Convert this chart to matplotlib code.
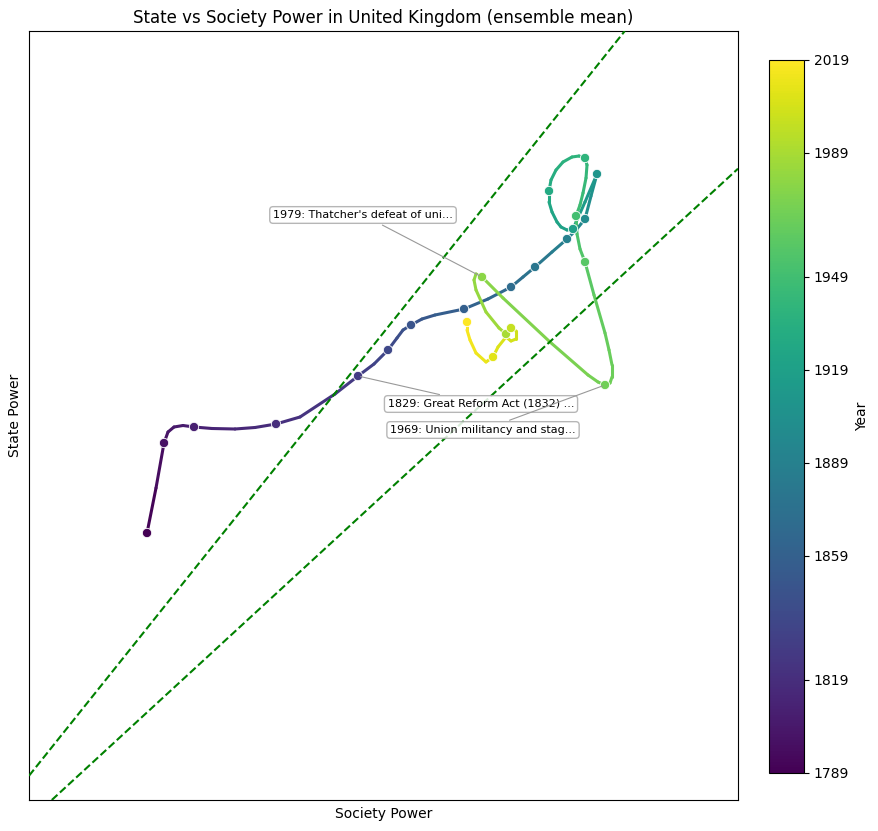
import numpy as np
import matplotlib.pyplot as plt
from matplotlib.collections import LineCollection
from matplotlib.colors import Normalize
from matplotlib.cm import ScalarMappable

# decade markers (arbitrary power units)
dot_years = [1789, 1799, 1809, 1819, 1829, 1839, 1849, 1859, 1869, 1879, 1889, 1899,
             1909, 1919, 1929, 1939, 1949, 1959, 1969, 1979, 1989, 1999, 2009, 2019]
dot_society = [2.55, 2.72, 3.02, 3.84, 4.66, 4.96, 5.19, 5.72, 6.19, 6.43, 6.75, 6.93,
               7.05, 6.81, 6.57, 6.93, 6.84, 6.93, 7.13, 5.90, 6.14, 6.19, 6.01, 5.75]
dot_state = [4.14, 5.04, 5.20, 5.23, 5.71, 5.97, 6.22, 6.38, 6.60, 6.80, 7.08, 7.28,
             7.73, 7.18, 7.56, 7.89, 7.31, 6.85, 5.62, 6.70, 6.13, 6.19, 5.90, 6.25]

# trajectory between the markers
path_years = [1789, 1794, 1799, 1802, 1804, 1806, 1809, 1811, 1814, 1816, 1819, 1822,
              1826, 1829, 1834, 1839, 1842, 1846, 1849, 1851, 1854, 1859, 1864, 1869,
              1874, 1879, 1884, 1889, 1894, 1899, 1904, 1909, 1914, 1919, 1920, 1921,
              1922, 1924, 1926, 1929, 1931, 1933, 1935, 1937, 1938, 1939, 1940, 1942,
              1944, 1946, 1949, 1952, 1955, 1959, 1962, 1965, 1966, 1967, 1968, 1968.5,
              1969, 1970, 1971, 1974, 1977, 1979, 1980, 1981, 1982, 1984, 1987, 1989,
              1994, 1999, 2001, 2003, 2004, 2005, 2007, 2009, 2011, 2013, 2015, 2017,
              2019]
path_society = [2.55, 2.64, 2.72, 2.76, 2.82, 2.91, 3.02, 3.20, 3.43, 3.63, 3.84, 4.08,
                4.43, 4.66, 4.82, 4.96, 5.05, 5.11, 5.19, 5.30, 5.43, 5.72, 5.96, 6.19,
                6.31, 6.43, 6.60, 6.75, 6.84, 6.93, 6.99, 7.05, 6.93, 6.81, 6.75, 6.69,
                6.65, 6.60, 6.57, 6.57, 6.59, 6.64, 6.71, 6.80, 6.87, 6.93, 6.95, 6.94,
                6.91, 6.88, 6.84, 6.85, 6.88, 6.93, 7.02, 7.13, 7.17, 7.20, 7.20, 7.18,
                7.13, 7.06, 6.96, 6.58, 6.11, 5.90, 5.84, 5.82, 5.84, 5.94, 6.07, 6.14,
                6.17, 6.19, 6.24, 6.24, 6.19, 6.14, 6.06, 6.01, 5.94, 5.84, 5.78, 5.75,
                5.75]
path_state = [4.14, 4.59, 5.04, 5.15, 5.20, 5.215, 5.20, 5.185, 5.18, 5.195, 5.23, 5.30,
              5.53, 5.71, 5.83, 5.97, 6.09, 6.17, 6.22, 6.28, 6.32, 6.38, 6.48, 6.60,
              6.70, 6.80, 6.95, 7.08, 7.17, 7.28, 7.51, 7.73, 7.45, 7.18, 7.17, 7.20,
              7.25, 7.35, 7.45, 7.56, 7.67, 7.77, 7.85, 7.90, 7.91, 7.89, 7.82, 7.69,
              7.54, 7.42, 7.31, 7.13, 6.98, 6.85, 6.52, 6.14, 5.97, 5.82, 5.70, 5.64,
              5.62, 5.65, 5.72, 6.05, 6.49, 6.70, 6.73, 6.67, 6.57, 6.35, 6.19, 6.13,
              6.17, 6.19, 6.16, 6.08, 6.06, 6.10, 6.00, 5.90, 5.85, 5.94, 6.07, 6.17,
              6.25]

events = {1829: "1829: Great Reform Act (1832) ...",
          1969: "1969: Union militancy and stag...",
          1979: "1979: Thatcher's defeat of uni..."}
label_pos = {1829: (5.89, 5.43), 1969: (5.91, 5.17), 1979: (4.71, 7.32)}

cbar_ticks = [1789, 1819, 1859, 1889, 1919, 1949, 1989, 2019]

fig = plt.figure(figsize=(8.79, 8.31), dpi=100)
ax = fig.add_axes([0.033, 0.0373, 0.8066, 0.9254])
cax = fig.add_axes([0.8749, 0.0698, 0.0398, 0.858])

norm = Normalize(1789, 2019)
cmap = plt.get_cmap('viridis')

pts = np.column_stack([path_society, path_state])
segs = np.stack([pts[:-1], pts[1:]], axis=1)
mid_years = (np.array(path_years[:-1]) + np.array(path_years[1:])) / 2
lc = LineCollection(segs, colors=cmap(norm(mid_years)), linewidths=2.2,
                    capstyle='round', joinstyle='round', zorder=2)
ax.add_collection(lc)

ax.scatter(dot_society, dot_state, c=dot_years, cmap=cmap, norm=norm, s=45,
           edgecolors='white', linewidths=0.6, zorder=4)

# ratio lines
ax.axline((0, 0), slope=1.25, color='green', ls='--', lw=1.5, zorder=3)
ax.axline((0, 0), slope=0.92, color='green', ls='--', lw=1.5, zorder=3)

for yr, txt in events.items():
    i = dot_years.index(yr)
    ax.annotate(txt, xy=(dot_society[i], dot_state[i]), xytext=label_pos[yr],
                ha='center', va='center', fontsize=8, zorder=5,
                bbox=dict(boxstyle='round,pad=0.3', fc='white', ec='#aaaaaa', alpha=0.85),
                arrowprops=dict(arrowstyle='-', color='#999999', lw=0.8))

ax.set_xlim(1.37, 8.46)
ax.set_ylim(1.47, 9.16)
ax.set_xticks([])
ax.set_yticks([])
ax.set_xlabel("Society Power", fontsize=10, labelpad=5)
ax.set_ylabel("State Power", fontsize=10, labelpad=5)
ax.set_title("State vs Society Power in United Kingdom (ensemble mean)", fontsize=12)

sm = ScalarMappable(norm=norm, cmap=cmap)
cb = fig.colorbar(sm, cax=cax)
cb.set_ticks(cbar_ticks)
cb.set_label("Year", fontsize=10)

fig.savefig("out.png", dpi=100)
